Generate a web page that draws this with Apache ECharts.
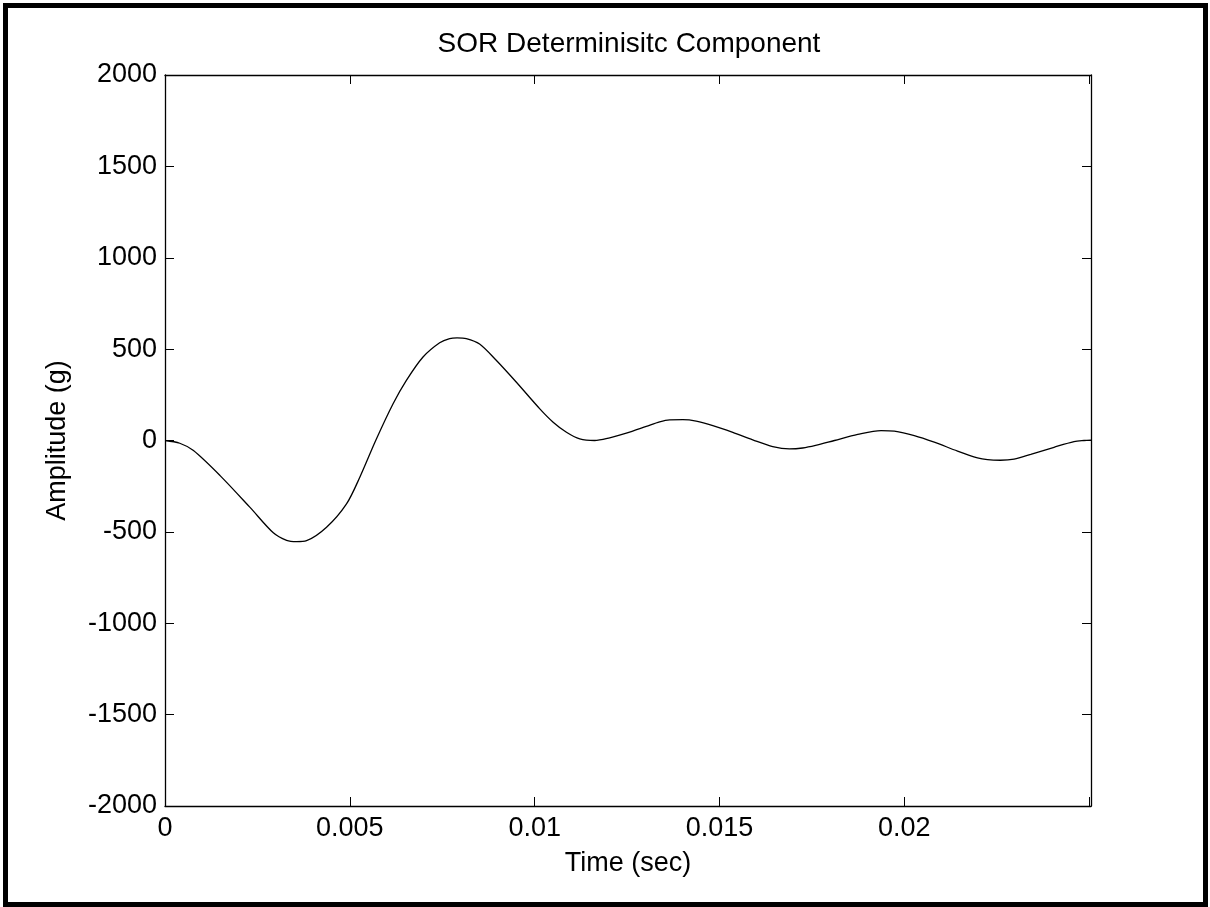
<!DOCTYPE html>
<html>
<head>
<meta charset="utf-8">
<script src="https://cdn.jsdelivr.net/npm/echarts@6/dist/echarts.min.js"></script>
<style>
html,body{margin:0;padding:0;background:#fff;}
#chart{width:1210px;height:907px;}
</style>
</head>
<body>
<div id="chart"></div>
<script>
const titleText = 'SOR Determinisitc Component';
const xLabel = 'Time (sec)';
const yLabel = 'Amplitude (g)';
const xTicks = [0, 0.005, 0.01, 0.015, 0.02];
const yTicks = [-2000, -1500, -1000, -500, 0, 500, 1000, 1500, 2000];
const timeSec = [0, 0.0004, 0.00077, 0.00149, 0.0023, 0.00293, 0.00329, 0.00356, 0.00383, 0.00437, 0.00491,
  0.00527, 0.0057, 0.00617, 0.00653, 0.00698, 0.00743, 0.0077, 0.0079, 0.00815,
  0.00851, 0.00896, 0.0095, 0.01014, 0.0105, 0.01086, 0.01122, 0.01162, 0.01203, 0.01248,
  0.01302, 0.01338, 0.01365, 0.01401, 0.01437, 0.01482, 0.01536, 0.0159, 0.01644, 0.01689,
  0.01725, 0.0176, 0.01811, 0.01874, 0.01937, 0.01973, 0.02027, 0.02081, 0.02144, 0.02198,
  0.02225, 0.0226, 0.02297, 0.02342, 0.02405, 0.02459, 0.02486, 0.02505];
const amplitude = [0, -15, -55, -192, -366, -505, -546, -553, -548, -475, -347,
  -201, 0, 201, 329, 457, 535, 558, 562, 558,
  528, 439, 320, 173, 100, 45, 9, 0, 15, 40,
  77, 102, 113, 114, 106, 82, 45, 4, -33, -46,
  -41, -27, 0, 33, 54, 51, 27, -9, -58, -95,
  -105, -108, -102, -76, -37, -6, 0, 2];
const xMax = 0.02505;

const chart = echarts.init(document.getElementById('chart'));
const font = "'Liberation Sans', Arial, sans-serif";
const fs = 27;
const data = timeSec.map((t, i) => [t, amplitude[i]]);
const axisLineStyle = {color: '#000', width: 1.3};
const tickStyle = {show: true, inside: true, length: 9, lineStyle: {color: '#000', width: 1}};
chart.setOption({
  animation: false,
  backgroundColor: '#fff',
  title: {
    text: titleText, left: 624, top: 25, textAlign: 'center',
    textStyle: {fontFamily: font, fontSize: 28, fontWeight: 'normal', color: '#000'}
  },
  graphic: [{
    type: 'rect', shape: {x: 5.5, y: 5.5, width: 1200, height: 899},
    style: {fill: null, stroke: '#000', lineWidth: 5}, silent: true
  }],
  grid: {left: 165, right: 119, top: 75, bottom: 101, containLabel: false},
  xAxis: [{
    type: 'value', min: 0, max: xMax, interval: 0.005, position: 'bottom',
    name: xLabel, nameLocation: 'middle', nameGap: 44,
    nameTextStyle: {fontFamily: font, fontSize: fs, color: '#000'},
    axisLine: {show: true, onZero: false, lineStyle: axisLineStyle},
    axisTick: tickStyle,
    axisLabel: {fontFamily: font, fontSize: fs, color: '#000', margin: 9, showMaxLabel: false,
      formatter: v => xTicks.indexOf(+v.toFixed(4)) >= 0 ? String(+v.toFixed(4)) : ''},
    splitLine: {show: false}
  }, {
    type: 'value', min: 0, max: xMax, interval: 0.005, position: 'top',
    axisLine: {show: true, onZero: false, lineStyle: axisLineStyle},
    axisTick: tickStyle,
    axisLabel: {show: false}, splitLine: {show: false}
  }],
  yAxis: [{
    type: 'value', min: yTicks[0], max: yTicks[yTicks.length - 1], interval: 500, position: 'left',
    name: yLabel, nameLocation: 'middle', nameGap: 94, nameRotate: 90,
    nameTextStyle: {fontFamily: font, fontSize: fs, color: '#000'},
    axisLine: {show: true, onZero: false, lineStyle: axisLineStyle},
    axisTick: tickStyle,
    axisLabel: {fontFamily: font, fontSize: fs, color: '#000', margin: 8, formatter: v => String(v)},
    splitLine: {show: false}
  }, {
    type: 'value', min: yTicks[0], max: yTicks[yTicks.length - 1], interval: 500, position: 'right',
    axisLine: {show: true, onZero: false, lineStyle: axisLineStyle},
    axisTick: tickStyle,
    axisLabel: {show: false}, splitLine: {show: false}
  }],
  series: [{
    type: 'line', data: data, xAxisIndex: 0, yAxisIndex: 0,
    showSymbol: false, smooth: 0.3,
    lineStyle: {color: '#000', width: 1.3}
  }]
});
</script>
</body>
</html>
